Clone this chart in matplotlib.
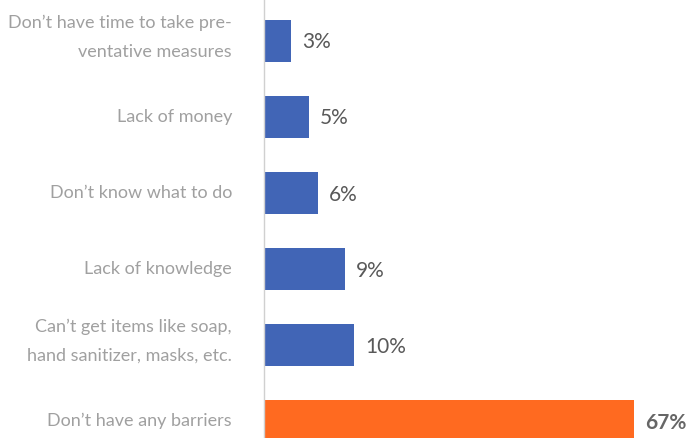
import matplotlib
matplotlib.use("Agg")
import matplotlib.pyplot as plt
import numpy as np

categories = [
    "Don\u2019t have time to take pre-\nventative measures",
    "Lack of money",
    "Don\u2019t know what to do",
    "Lack of knowledge",
    "Can\u2019t get items like soap,\nhand sanitizer, masks, etc.",
    "Don\u2019t have any barriers",
]
values = [3, 5, 6, 9, 10, 67]
value_labels = ["3%", "5%", "6%", "9%", "10%", "67%"]
highlight = [False, False, False, False, False, True]

BLUE = "#4165B6"
ORANGE = "#FF6A20"

plt.rcParams["font.family"] = ["Lato", "DejaVu Sans"]

# the big bar is compressed past 12% so the small ones stay readable
BREAK, K = 12.0, 0.529


def fwd(x):
    x = np.asarray(x, dtype=float)
    return np.where(x <= BREAK, x, BREAK + (x - BREAK) * K)


def inv(y):
    y = np.asarray(y, dtype=float)
    return np.where(y <= BREAK, y, BREAK + (y - BREAK) / K)


fig = plt.figure(figsize=(6.89, 4.38), dpi=100)
ax = fig.add_axes([264 / 689, 0, 1 - 264 / 689, 1])
ax.set_xscale("function", functions=(fwd, inv))

y = np.arange(len(categories))
colors = [ORANGE if h else BLUE for h in highlight]
ax.barh(y, values, height=0.55, color=colors)

ax.set_xlim(0, 78.6)
ax.set_ylim(5.22, -0.54)

for yi, v, lab, h in zip(y, values, value_labels, highlight):
    ax.annotate(lab, (v, yi), xytext=(8, -1), textcoords="offset points",
                ha="left", va="center", fontsize=15,
                color="#666666" if h else "#595959",
                fontweight="bold" if h else "normal")

# two-line labels sit a bit above the bar centre, like the original
for yi, cat in zip(y, categories):
    dy = 3 if "\n" in cat else 0
    ax.annotate(cat, (0, yi), xytext=(-23, dy), textcoords="offset points",
                ha="right", va="center", fontsize=13, color="#A0A0A0",
                linespacing=2.0, annotation_clip=False)

ax.set_yticks([])
ax.set_xticks([])
for side in ("top", "right", "bottom"):
    ax.spines[side].set_visible(False)
ax.spines["left"].set_color("#D0D0D0")
ax.spines["left"].set_linewidth(1.0)

fig.savefig("out.png", dpi=100)
